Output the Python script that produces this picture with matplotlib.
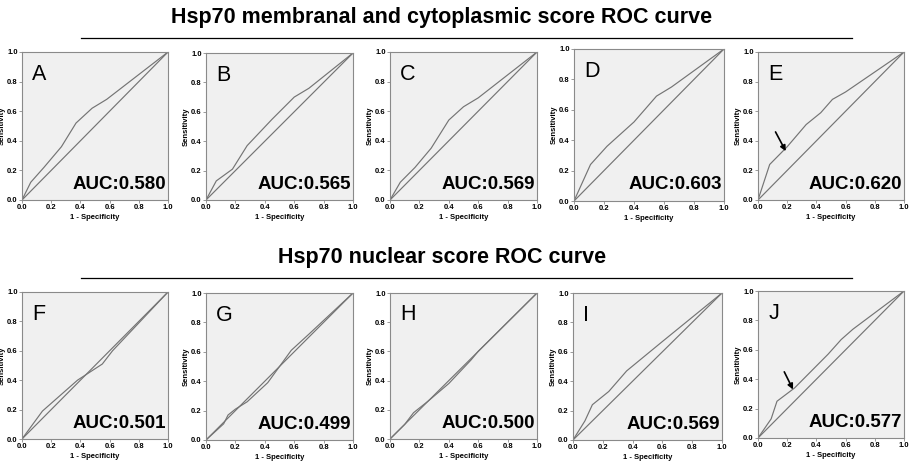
import numpy as np
import matplotlib.pyplot as plt

plt.rcParams['font.family'] = ['Liberation Sans', 'DejaVu Sans']

# ---- data ----
titles = ["Hsp70 membranal and cytoplasmic score ROC curve",
          "Hsp70 nuclear score ROC curve"]
letters = ["A", "B", "C", "D", "E", "F", "G", "H", "I", "J"]
auc = ["0.580", "0.565", "0.569", "0.603", "0.620",
       "0.501", "0.499", "0.500", "0.569", "0.577"]

fpr_a = [0, 0.06, 0.15, 0.27, 0.37, 0.48, 0.58, 1]
tpr_a = [0, 0.12, 0.22, 0.36, 0.52, 0.62, 0.68, 1]
fpr_b = [0, 0.07, 0.18, 0.28, 0.45, 0.60, 0.70, 1]
tpr_b = [0, 0.13, 0.21, 0.37, 0.55, 0.70, 0.76, 1]
fpr_c = [0, 0.07, 0.17, 0.28, 0.40, 0.50, 0.60, 1]
tpr_c = [0, 0.12, 0.22, 0.35, 0.54, 0.63, 0.69, 1]
fpr_d = [0, 0.11, 0.22, 0.40, 0.55, 0.65, 1]
tpr_d = [0, 0.24, 0.36, 0.52, 0.69, 0.75, 1]
fpr_e = [0, 0.08, 0.20, 0.33, 0.43, 0.51, 0.60, 1]
tpr_e = [0, 0.24, 0.36, 0.51, 0.59, 0.68, 0.73, 1]
fpr_f = [0, 0.14, 0.38, 0.55, 0.62, 1]
tpr_f = [0, 0.19, 0.40, 0.51, 0.60, 1]
fpr_g = [0, 0.12, 0.15, 0.20, 0.28, 0.42, 0.58, 0.70, 1]
tpr_g = [0, 0.11, 0.17, 0.21, 0.26, 0.39, 0.61, 0.72, 1]
fpr_h = [0, 0.10, 0.16, 0.26, 0.40, 0.55, 0.60, 1]
tpr_h = [0, 0.10, 0.18, 0.26, 0.38, 0.54, 0.60, 1]
fpr_i = [0, 0.08, 0.13, 0.24, 0.36, 0.48, 0.60, 1]
tpr_i = [0, 0.13, 0.24, 0.33, 0.47, 0.57, 0.67, 1]
fpr_j = [0, 0.09, 0.13, 0.25, 0.48, 0.57, 0.65, 1]
tpr_j = [0, 0.13, 0.25, 0.34, 0.57, 0.67, 0.74, 1]

fprs = [fpr_a, fpr_b, fpr_c, fpr_d, fpr_e, fpr_f, fpr_g, fpr_h, fpr_i, fpr_j]
tprs = [tpr_a, tpr_b, tpr_c, tpr_d, tpr_e, tpr_f, tpr_g, tpr_h, tpr_i, tpr_j]

# arrows in E and J: (tail, head) in data coords
arrows = {"E": ((0.12, 0.46), (0.19, 0.33)),
          "J": ((0.18, 0.45), (0.24, 0.33))}

# ---- layout (pixel boxes: left, right, top, bottom) ----
W, H = 920, 462
boxes = [(22, 168, 52, 200), (206, 353, 53, 200), (390, 537, 52, 200),
         (574, 724, 49, 201), (758, 904, 52, 200),
         (22, 168, 292, 439), (206, 353, 293, 440), (390, 537, 293, 439),
         (573, 722, 293, 440), (758, 904, 291, 438)]

fig = plt.figure(figsize=(W / 100, H / 100), dpi=100)
fig.patch.set_facecolor('white')

line_col = '#747474'
for i, (l, r, t, b) in enumerate(boxes):
    ax = fig.add_axes([l / W, 1 - b / H, (r - l) / W, (b - t) / H])
    ax.set_facecolor('#f0f0f0')
    for s in ax.spines.values():
        s.set_color('#8a8a8a')
        s.set_linewidth(0.8)
    ax.plot([0, 1], [0, 1], color=line_col, lw=0.85)
    ax.plot(fprs[i], tprs[i], color=line_col, lw=0.85)
    ax.set_xlim(0, 1)
    ax.set_ylim(0, 1)
    ticks = [0, 0.2, 0.4, 0.6, 0.8, 1.0]
    ax.set_xticks(ticks)
    ax.set_yticks(ticks)
    ax.set_xticklabels([f"{v:.1f}" for v in ticks], fontsize=5.5, fontweight='bold')
    ax.set_yticklabels([f"{v:.1f}" for v in ticks], fontsize=5.5, fontweight='bold')
    ax.tick_params(length=2, width=0.6, color='#8a8a8a', pad=1)
    ax.set_xlabel("1 - Specificity", fontsize=5.5, fontweight='bold', labelpad=2)
    ax.set_ylabel("Sensitivity", fontsize=5.5, fontweight='bold', labelpad=1)
    ax.text(0.07, 0.85, letters[i], transform=ax.transAxes, fontsize=15.5,
            va='center', ha='left')
    ax.text(0.985, 0.05, "AUC:" + auc[i], transform=ax.transAxes, fontsize=13.5,
            fontweight='bold', ha='right', va='bottom')
    if letters[i] in arrows:
        tail, head = arrows[letters[i]]
        ax.annotate("", xy=head, xytext=tail,
                    arrowprops=dict(arrowstyle='-|>', color='black', lw=1.2,
                                    mutation_scale=8, shrinkA=0, shrinkB=0))

# titles and rules
fig.text(442 / W, 1 - 18 / H, titles[0], fontsize=15.5, fontweight='bold',
         ha='center', va='center')
fig.text(442 / W, 1 - 258 / H, titles[1], fontsize=15.5, fontweight='bold',
         ha='center', va='center')
fig.add_artist(plt.Line2D([81 / W, 852 / W], [1 - 38 / H, 1 - 38 / H],
                          color='black', lw=0.9))
fig.add_artist(plt.Line2D([81 / W, 852 / W], [1 - 278 / H, 1 - 278 / H],
                          color='black', lw=0.9))

plt.savefig('out.png', dpi=100)
